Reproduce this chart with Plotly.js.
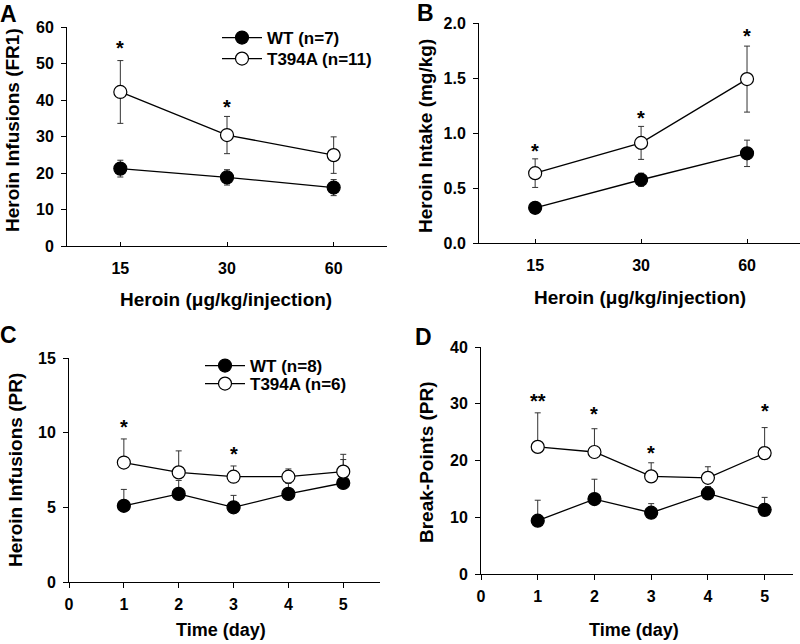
<!DOCTYPE html>
<html>
<head>
<meta charset="utf-8">
<script src="https://cdn.plot.ly/plotly-3.0.1.min.js"></script>
<style>
  body { margin: 0; background: #fff; }
  #chart { width: 800px; height: 644px; }
</style>
</head>
<body>
<div id="chart"></div>
<script>
// ============ DATA ============
const DOSE_POS = [1, 2, 3];
const DOSE_LABELS = ['15', '30', '60'];
const DAYS = [1, 2, 3, 4, 5];
const DAY_TICKS = [0, 1, 2, 3, 4, 5];

// A: infusions FR1
const A_WT = [21.2, 18.8, 16.0];
const A_WT_ERR = [2.3, 2.1, 2.2];
const A_MUT = [42.2, 30.4, 24.9];
const A_MUT_ERR = [8.6, 5.1, 5.0];
const A_STARS = [{x: 1, y: 54.2, t: '*'}, {x: 2, y: 38.2, t: '*'}];

// B: intake mg/kg
const B_WT = [0.32, 0.575, 0.815];
const B_WT_ERR = [0.03, 0.06, 0.12];
const B_MUT = [0.635, 0.91, 1.49];
const B_MUT_ERR = [0.13, 0.15, 0.30];
const B_STARS = [{x: 1, y: 0.84, t: '*'}, {x: 2, y: 1.14, t: '*'}, {x: 3, y: 1.88, t: '*'}];

// C: infusions PR (upper error only)
const C_WT = [5.1, 5.9, 5.0, 5.9, 6.63];
const C_WT_ERR = [1.1, 0.9, 0.8, 0.7, 1.57];
const C_MUT = [8.0, 7.34, 7.05, 7.05, 7.39];
const C_MUT_ERR = [1.58, 1.44, 0.72, 0.52, 1.16];
const C_STARS = [{x: 1, y: 10.4, t: '*'}, {x: 3, y: 8.6, t: '*'}];

// D: break-points PR (upper error only)
const D_WT = [9.4, 13.2, 10.8, 14.2, 11.3];
const D_WT_ERR = [3.6, 3.5, 1.6, 1.2, 2.2];
const D_MUT = [22.4, 21.5, 17.2, 16.95, 21.3];
const D_MUT_ERR = [6.0, 4.1, 2.4, 1.95, 4.5];
const D_STARS = [{x: 1, y: 30.5, t: '**'}, {x: 2, y: 28.2, t: '*'}, {x: 3, y: 21.3, t: '*'}, {x: 5, y: 28.7, t: '*'}];

// ============ HELPERS ============
const FONT = 'Liberation Sans, Arial, sans-serif';
const W = 800, H = 644;
const px = v => v / W;
const py = v => 1 - v / H;
const zeros = n => new Array(n).fill(0);

function series(x, y, up, down, filled, xa, ya, name, legend, show){
  return {
    x: x, y: y, type: 'scatter', mode: 'lines+markers',
    name: name, legend: legend, showlegend: show,
    xaxis: xa, yaxis: ya,
    line: {color: '#000', width: 1.3},
    marker: {size: 13, color: filled ? '#000' : '#fff', line: {color: '#000', width: 1.2}},
    error_y: {type: 'data', symmetric: false, array: up, arrayminus: down,
              color: '#333', thickness: 1, width: 3},
    hoverinfo: 'skip'
  };
}

// each legend entry gets its own legend box so the rows can sit as close as in the figure
const traces = [
  series(DOSE_POS, A_WT, A_WT_ERR, A_WT_ERR, true, 'x', 'y', 'WT (n=7)', 'legend', true),
  series(DOSE_POS, A_MUT, A_MUT_ERR, A_MUT_ERR, false, 'x', 'y', 'T394A (n=11)', 'legend2', true),
  series(DOSE_POS, B_WT, B_WT_ERR, B_WT_ERR, true, 'x2', 'y2', 'WT', 'legend', false),
  series(DOSE_POS, B_MUT, B_MUT_ERR, B_MUT_ERR, false, 'x2', 'y2', 'T394A', 'legend', false),
  series(DAYS, C_WT, C_WT_ERR, zeros(5), true, 'x3', 'y3', 'WT (n=8)', 'legend3', true),
  series(DAYS, C_MUT, C_MUT_ERR, zeros(5), false, 'x3', 'y3', 'T394A (n=6)', 'legend4', true),
  series(DAYS, D_WT, D_WT_ERR, zeros(5), true, 'x4', 'y4', 'WT', 'legend', false),
  series(DAYS, D_MUT, D_MUT_ERR, zeros(5), false, 'x4', 'y4', 'T394A', 'legend', false)
];

const tickFont = {family: FONT, size: 16, color: '#000', weight: 'bold'};
function xAxis(dom, range, opts){
  return Object.assign({
    domain: dom, range: range, showline: true, linecolor: '#000', linewidth: 1,
    showgrid: false, zeroline: false, tickfont: tickFont, tickcolor: '#000',
    fixedrange: true
  }, opts);
}
function yAxis(dom, range, dtick, anchor, fmt){
  return {
    domain: dom, range: range, dtick: dtick, anchor: anchor, tickformat: fmt,
    showline: true, linecolor: '#000', linewidth: 1, showgrid: false, zeroline: false,
    ticks: 'outside', ticklen: 5, tickcolor: '#000', tickfont: tickFont,
    ticklabelstandoff: 4, fixedrange: true
  };
}

// ============ ANNOTATIONS ============
const ann = [];
function paperText(text, x, y, size, angle){
  ann.push({text: text, x: px(x), y: py(y), xref: 'paper', yref: 'paper',
    showarrow: false, textangle: angle || 0, xanchor: 'center', yanchor: 'middle',
    font: {family: FONT, size: size, color: '#000', weight: 'bold'}});
}
function stars(list, xr, yr){
  list.forEach(s => ann.push({text: s.t, x: s.x, y: s.y, xref: xr, yref: yr,
    showarrow: false, xanchor: 'center', yanchor: 'middle',
    font: {family: FONT, size: 20, color: '#000', weight: 'bold'}}));
}
paperText('A', 8, 14, 23);
paperText('B', 425, 13, 23);
paperText('C', 8, 335, 23);
paperText('D', 423, 337, 23);
paperText('Heroin Infusions (FR1)', 12, 130, 19, -90);
paperText('Heroin Intake (mg/kg)', 426, 136, 19, -90);
paperText('Heroin Infusions (PR)', 15, 470, 19, -90);
paperText('Break-Points (PR)', 426, 462, 19, -90);
paperText('Heroin (\u03bcg/kg/injection)', 226, 299, 19);
paperText('Heroin (\u03bcg/kg/injection)', 640, 298, 19);
paperText('Time (day)', 221, 630, 18);
paperText('Time (day)', 634, 630, 18);
stars(A_STARS, 'x', 'y');
stars(B_STARS, 'x2', 'y2');
stars(C_STARS, 'x3', 'y3');
stars(D_STARS, 'x4', 'y4');

const legendFont = {family: FONT, size: 17, color: '#000', weight: 'bold'};
function legendBox(x, y){
  return {x: px(x), y: py(y), xanchor: 'left', yanchor: 'middle', bgcolor: 'rgba(0,0,0,0)',
          font: legendFont, itemwidth: 40, borderwidth: 0};
}

const layout = {
  width: W, height: H,
  margin: {l: 0, r: 0, t: 0, b: 0},
  paper_bgcolor: '#fff', plot_bgcolor: 'rgba(0,0,0,0)',
  font: {family: FONT, color: '#000'},
  xaxis: xAxis([px(67), px(387)], [0.5, 3.5], {anchor: 'y', tickvals: DOSE_POS, ticktext: DOSE_LABELS, ticks: 'inside', ticklen: 4, ticklabelstandoff: 8}),
  yaxis: yAxis([py(246), py(27)], [0, 60], 10, 'x'),
  xaxis2: xAxis([px(479), 1], [0.47, 3.5], {anchor: 'y2', tickvals: DOSE_POS, ticktext: DOSE_LABELS, ticks: 'inside', ticklen: 4, ticklabelstandoff: 8}),
  yaxis2: yAxis([py(243), py(23)], [0, 2], 0.5, 'x2', '.1f'),
  xaxis3: xAxis([px(69), px(380)], [0, 5.67], {anchor: 'y3', tickvals: DAY_TICKS, ticks: 'outside', ticklen: 5, ticklabelstandoff: 3}),
  yaxis3: yAxis([py(582), py(358)], [0, 15], 5, 'x3'),
  xaxis4: xAxis([px(481), px(793)], [0, 5.5], {anchor: 'y4', tickvals: DAY_TICKS, ticks: 'outside', ticklen: 5, ticklabelstandoff: 3}),
  yaxis4: yAxis([py(574), py(347)], [0, 40], 10, 'x4'),
  legend: legendBox(217, 38),
  legend2: legendBox(217, 59),
  legend3: legendBox(200, 366),
  legend4: legendBox(200, 384),
  annotations: ann,
  showlegend: true
};

Plotly.newPlot('chart', traces, layout, {displayModeBar: false, staticPlot: true});
</script>
</body>
</html>
